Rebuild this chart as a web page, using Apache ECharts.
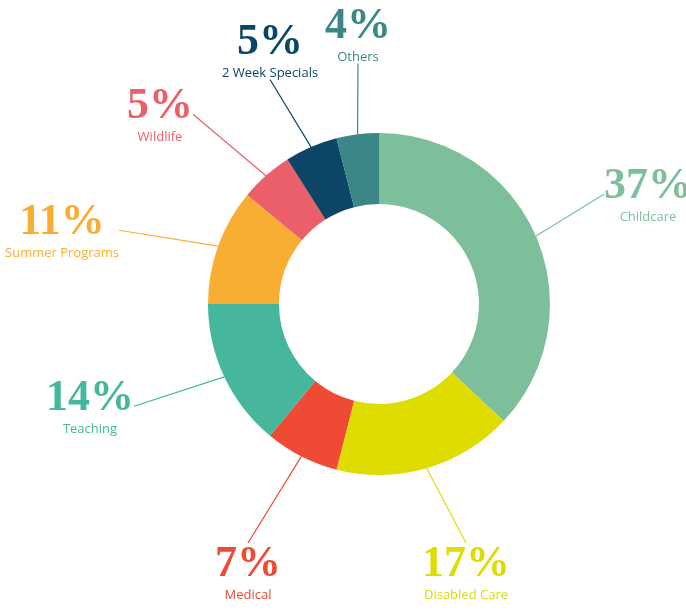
<!DOCTYPE html>
<html>
<head>
<meta charset="UTF-8">
<script src="https://cdn.jsdelivr.net/npm/echarts@6/dist/echarts.min.js"></script>
<style>html,body{margin:0;background:#fff}#chart{width:686px;height:610px}</style>
</head>
<body>
<div id="chart"></div>
<script>
// 各类别及占比
const categories = ['Childcare', 'Disabled Care', 'Medical', 'Teaching', 'Summer Programs', 'Wildlife', '2 Week Specials', 'Others'];
const values = [37, 17, 7, 14, 11, 5, 5, 4];
const colors = ['#7dbf9b', '#dedc00', '#ef4b34', '#46b69c', '#f8ae33', '#ea5f6a', '#0c4566', '#3b8686'];
// 标签中心位置（样式，不是数据）
const labelPos = [[648, 196], [466, 574], [248, 574], [90, 408], [62, 232], [160, 116], [270, 52], [358, 36]];

const chart = echarts.init(document.getElementById('chart'));
chart.setOption({
    animation: false,
    series: [{
        type: 'pie',
        center: [379, 304],
        radius: [100, 171],
        startAngle: 90,
        clockwise: true,
        silent: true,
        data: categories.map((name, i) => ({
            name: name,
            value: values[i],
            itemStyle: { color: colors[i] },
            label: { color: colors[i] },
            labelLine: { lineStyle: { color: colors[i] } }
        })),
        label: {
            show: true,
            align: 'center',
            formatter: p => '{p|' + p.value + '%}\n{n|' + p.name + '}',
            rich: {
                p: { fontFamily: 'Liberation Sans Narrow', fontWeight: 'bold', fontSize: 44, lineHeight: 42, align: 'center' },
                n: { fontFamily: 'Open Sans', fontSize: 13, lineHeight: 18, align: 'center' }
            }
        },
        labelLine: { show: true, length: 20, length2: 0, lineStyle: { width: 1.2 } },
        labelLayout: p => ({
            x: labelPos[p.dataIndex][0],
            y: labelPos[p.dataIndex][1],
            align: 'center',
            verticalAlign: 'middle'
        })
    }]
});
</script>
</body>
</html>
